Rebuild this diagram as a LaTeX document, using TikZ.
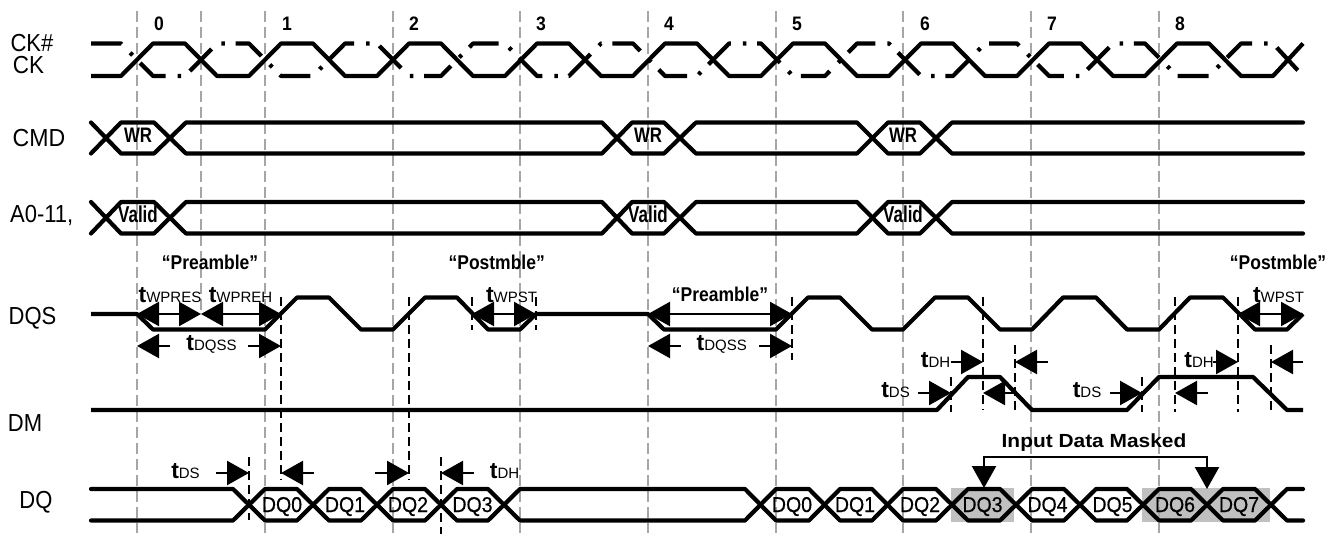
\documentclass[tikz,border=0pt]{standalone}
\usepackage{fontspec}
\setmainfont{Liberation Sans}
\newfontfamily\semib[FakeBold=0.6]{Liberation Sans}
\usetikzlibrary{arrows.meta}
\definecolor{gridgrey}{HTML}{A6A6A6}
\definecolor{maskgrey}{HTML}{C0C0C0}
\newcommand{\fs}[1]{\fontsize{#1pt}{#1pt}\selectfont}
\newcommand{\tm}[1]{{\fs{23}\bfseries t}{\fs{15}#1}}
\newcommand{\nar}[2]{\scalebox{#1}[1]{#2}}
\newcommand{\stretched}[3]{\scalebox{#1}[#2]{#3}}
\tikzset{
  gridline/.style={gridgrey,line width=2.5pt,dash pattern=on 11pt off 5pt},
  blackdash/.style={black,line width=2.4pt,dash pattern=on 9pt off 5pt},
  wave/.style={black,line width=4.2pt,line join=round},
  busline/.style={black,line width=4.2pt,line cap=round,line join=round},
  dimline/.style={black,line width=2.4pt},
  tipl/.style={{Triangle[length=22pt,width=24pt]}-},
  tipr/.style={-{Triangle[length=22pt,width=24pt]}},
  tipb/.style={{Triangle[length=22pt,width=24pt]}-{Triangle[length=22pt,width=24pt]}},
  lbl/.style={inner sep=0pt,anchor=base,font=\fs{22}},
  txt/.style={inner sep=0pt,anchor=base}
}
\begin{document}
\begin{tikzpicture}[x=1pt,y=-1pt]
\useasboundingbox (0,0) rectangle (1341,534);
% grey masks
\fill[maskgrey] (951,488) rectangle (1014,522);
\fill[maskgrey] (1142,488) rectangle (1270,522);
% grey clock grid
\foreach \x in {137,265,393,520,648,776,903,1031,1159} \draw[gridline] (\x,11) -- (\x,533);
\draw[gridline] (201,11) -- (201,315);
% clock
\draw[wave] (91,76) \foreach \n in {0,...,8}{ -- ({121+128*\n},76) -- ({153+128*\n},43.5) -- ({185+128*\n},43.5) -- ({217+128*\n},76) -- ({249+128*\n},76)} -- (1273,76) -- (1303,43.5);
\draw[wave,dash pattern=on 31pt off 12pt on 3.5pt off 10.8pt] (91,43.5) \foreach \n in {0,...,8}{ -- ({121+128*\n},43.5) -- ({153+128*\n},76) -- ({185+128*\n},76) -- ({217+128*\n},43.5) -- ({249+128*\n},43.5)} -- (1273,43.5) -- (1303,76);
% CMD and address buses
\foreach \yt/\yb in {122.5/153.5,202/233.5}{
  \draw[busline] (91,\yt) -- (121,\yb) -- (154,\yb) -- (186,\yt) -- (602,\yt) -- (632,\yb) -- (664,\yb) -- (696,\yt) -- (857,\yt) -- (888,\yb) -- (920,\yb) -- (952,\yt) -- (1303,\yt);
  \draw[busline] (91,\yb) -- (121,\yt) -- (154,\yt) -- (186,\yb) -- (602,\yb) -- (632,\yt) -- (664,\yt) -- (696,\yb) -- (857,\yb) -- (888,\yt) -- (920,\yt) -- (952,\yb) -- (1303,\yb);
}
% DQS
\draw[wave] (91,314) -- (137,314) -- (153,329.5) -- (265,329.5) -- (297,297.5) -- (329,297.5) -- (361,329.5) -- (393,329.5) -- (425,297.5) -- (457,297.5) -- (488,329.5) -- (520,329.5) -- (536,314) -- (648,314) -- (664,329.5) -- (776,329.5) -- (808,297.5) -- (840,297.5) -- (872,329.5) -- (903,329.5) -- (935,297.5) -- (968,297.5) -- (1000,329.5) -- (1032,329.5) -- (1063,297.5) -- (1096,297.5) -- (1127,329.5) -- (1159,329.5) -- (1190,297.5) -- (1223,297.5) -- (1255,329.5) -- (1287,329.5) -- (1303,314);
% DM
\draw[wave] (91,410) -- (937,410) -- (968,377) -- (1000,377) -- (1032,410) -- (1127,410) -- (1159,377) -- (1253,377) -- (1287,410) -- (1303,410);
% DQ
\foreach \yt/\yb in {489/520.5,520.5/489}{
  \draw[busline] (91,\yt) -- (233,\yt) -- (265,\yb) -- (297,\yb) -- (329,\yt) -- (361,\yt) -- (393,\yb) -- (425,\yb) -- (457,\yt) -- (488,\yt) -- (520,\yb) -- (745,\yb) -- (776,\yt) -- (809,\yt) -- (840,\yb) -- (872,\yb) -- (903,\yt) -- (936,\yt) -- (968,\yb) -- (1000,\yb) -- (1032,\yt) -- (1064,\yt) -- (1096,\yb) -- (1127,\yb) -- (1159,\yt) -- (1191,\yt) -- (1223,\yb) -- (1255,\yb) -- (1287,\yt) -- (1303,\yt);
}
% black dashed markers
\draw[blackdash] (281,297) -- (281,480);
\draw[blackdash] (409,297) -- (409,480);
\draw[blackdash] (249,457) -- (249,520);
\draw[blackdash] (441,457) -- (441,534);
\draw[blackdash] (472,297) -- (472,330);
\draw[blackdash] (536,297) -- (536,330);
\draw[blackdash] (792,297) -- (792,360);
\draw[blackdash] (983,297) -- (983,410);
\draw[blackdash] (1015,345) -- (1015,411);
\draw[blackdash] (951,377) -- (951,412);
\draw[blackdash] (1142,377) -- (1142,412);
\draw[blackdash] (1175,297) -- (1175,412);
\draw[blackdash] (1238,297) -- (1238,412);
\draw[blackdash] (1271,345) -- (1271,412);
% dimension arrows
\draw[dimline,tipb] (137,314) -- (201,314);
\draw[dimline,tipb] (201,314) -- (281,314);
\draw[dimline,tipb] (472,314) -- (536,314);
\draw[dimline,tipb] (648,314) -- (792,314);
\draw[dimline,tipb] (1238,314) -- (1303,314);
\draw[dimline,tipl] (137,346) -- (170,346);
\draw[dimline,tipr] (248,346) -- (281,346);
\draw[dimline,tipl] (648,346) -- (681,346);
\draw[dimline,tipr] (759,346) -- (792,346);
\draw[dimline,tipr] (216,473) -- (249,473);
\draw[dimline,tipl] (281,473) -- (314,473);
\draw[dimline,tipr] (375,473) -- (409,473);
\draw[dimline,tipl] (441,473) -- (474,473);
\draw[dimline,tipr] (951,362) -- (983,362);
\draw[dimline,tipl] (1015,362) -- (1048,362);
\draw[dimline,tipr] (1213,362) -- (1238,362);
\draw[dimline,tipl] (1271,362) -- (1303,362);
\draw[dimline,tipr] (918,393) -- (951,393);
\draw[dimline,tipl] (983,393) -- (1015,393);
\draw[dimline,tipr] (1110,393) -- (1142,393);
\draw[dimline,tipl] (1175,393) -- (1208,393);
% masked bracket
\draw[dimline,tipb] (984,488) -- (984,457) -- (1207,457) -- (1207,489);
% signal names
\node[lbl] (lckn) at (32,52) {\stretched{1}{1.12}{CK\#}};
\node[lbl] (lck) at (28.5,74) {\stretched{1.02}{1.12}{CK}};
\node[lbl] (lcmd) at (39,147) {\stretched{1.05}{1.12}{CMD}};
\node[lbl] (la) at (41.7,223) {\stretched{1}{1.12}{A0-11,}};
\node[lbl] (ldqs) at (32.5,325) {\stretched{1}{1.12}{DQS}};
\node[lbl] (ldm) at (25,431) {\stretched{1}{1.12}{DM}};
\node[lbl] (ldq) at (36,508.5) {\stretched{1}{1.12}{DQ}};
% cycle numbers
\foreach \x/\t in {159/0,287/1,414/2,541/3,669/4,797/5,925/6,1052/7,1180/8}
  \node[txt,font=\fs{19.5}\bfseries] (n\t) at (\x,31) {\nar{0.9}{\t}};
% bus contents
\foreach \x/\i in {138/a,648/b,903/c}{
  \node[txt,font=\fs{21}\bfseries] (wr\i) at (\x,143) {\nar{0.8}{WR}};
  \node[txt,font=\fs{23}\bfseries] (va\i) at (\x,223) {\nar{0.74}{Valid}};
}
\foreach \x/\t/\i in {282/DQ0/a,345/DQ1/b,408/DQ2/c,472.5/DQ3/d,792/DQ0/e,855/DQ1/f,920/DQ2/g,982.5/DQ3/h,1047.5/DQ4/i,1112.5/DQ5/j,1175/DQ6/k,1239/DQ7/l}
  \node[txt,font=\fs{19.5}\semib] (dq\i) at (\x,512) {\stretched{1}{1.1}{\t}};
% preamble / postamble
\node[txt,font=\fs{19}\bfseries] (pr1) at (210,270) {\stretched{0.92}{1.05}{“Preamble”}};
\node[txt,font=\fs{19}\bfseries] (po1) at (496.7,270) {\stretched{0.92}{1.05}{“Postmble”}};
\node[txt,font=\fs{19}\bfseries] (pr2) at (720,302) {\stretched{0.92}{1.05}{“Preamble”}};
\node[txt,font=\fs{19}\bfseries] (po2) at (1278,270) {\stretched{0.92}{1.05}{“Postmble”}};
% timing names
\node[txt] (t1) at (170,303) {\tm{WPRES}};
\node[txt] (t2) at (240.5,303) {\tm{WPREH}};
\node[txt] (t3) at (511.5,303) {\tm{WPST}};
\node[txt] (t4) at (1278.5,303) {\tm{WPST}};
\node[txt] (t5) at (211.5,351) {\tm{DQSS}};
\node[txt] (t6) at (721.7,351) {\tm{DQSS}};
\node[txt] (t7) at (185.5,478) {\tm{DS}};
\node[txt] (t8) at (504.5,478) {\tm{DH}};
\node[txt] (t9) at (935.5,367) {\tm{DH}};
\node[txt] (t10) at (1199,367) {\tm{DH}};
\node[txt] (t11) at (895.5,398) {\tm{DS}};
\node[txt] (t12) at (1087,398) {\tm{DS}};
\node[txt,font=\fs{19}\bfseries] (mask) at (1094,447) {\nar{1.1}{Input Data Masked}};
\end{tikzpicture}
\end{document}
